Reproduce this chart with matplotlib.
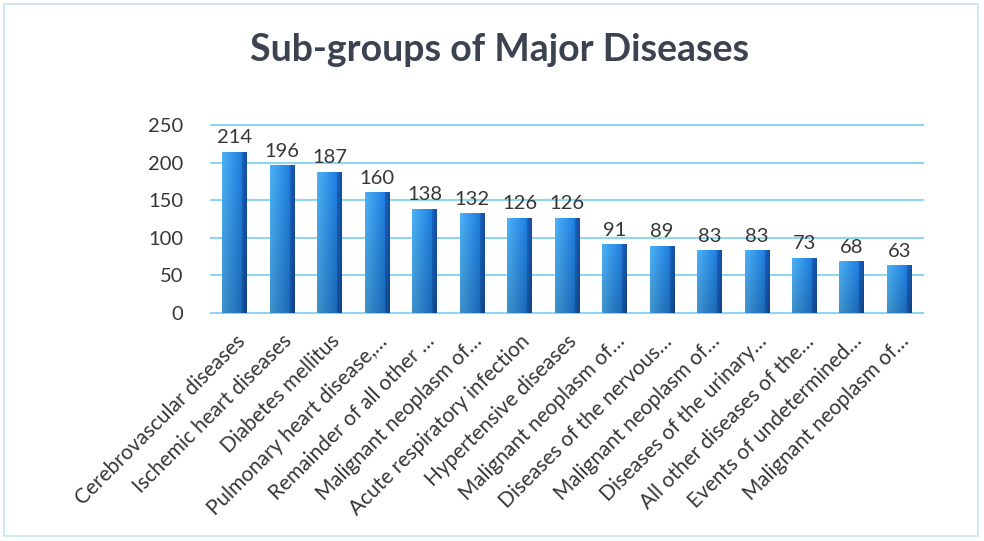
import numpy as np
import matplotlib.pyplot as plt
from matplotlib.patches import Rectangle
from matplotlib.colors import to_rgb

categories = [
    "Cerebrovascular diseases",
    "Ischemic heart diseases",
    "Diabetes mellitus",
    "Pulmonary heart disease,\u2026",
    "Remainder of all other \u2026",
    "Malignant neoplasm of\u2026",
    "Acute respiratory infection",
    "Hypertensive diseases",
    "Malignant neoplasm of\u2026",
    "Diseases of the nervous\u2026",
    "Malignant neoplasm of\u2026",
    "Diseases of the urinary\u2026",
    "All other diseases of the\u2026",
    "Events of undetermined\u2026",
    "Malignant neoplasm of\u2026",
]
values = [214, 196, 187, 160, 138, 132, 126, 126, 91, 89, 83, 83, 73, 68, 63]
yticks = [0, 50, 100, 150, 200, 250]

plt.rcParams['font.family'] = ['Lato', 'DejaVu Sans']
text_color = '#363636'


def bar_gradient(ncols=60, nrows=80):
    # front face light -> mid blue, right side face darker
    front_l = np.array(to_rgb('#4db2f6'))
    front_r = np.array(to_rgb('#1f7fe0'))
    side_l = np.array(to_rgb('#1b62c0'))
    side_r = np.array(to_rgb('#15509f'))
    nfront = int(ncols * 0.8)
    cols = []
    for i in range(ncols):
        if i < nfront:
            t = i / (nfront - 1)
            cols.append(front_l * (1 - t) + front_r * t)
        else:
            t = (i - nfront) / max(ncols - nfront - 1, 1)
            cols.append(side_l * (1 - t) + side_r * t)
    row = np.array(cols)
    shade = np.linspace(1.0, 0.82, nrows)[:, None, None]
    return np.clip(row[None, :, :] * shade, 0, 1)


fig = plt.figure(figsize=(9.84, 5.41), dpi=100)
ax = fig.add_axes([211 / 984, 228 / 541, 712 / 984, 188 / 541])

x = np.arange(len(values))
bars = ax.bar(x, values, width=0.52, color='none', zorder=3)
grad = bar_gradient()
for b, v in zip(bars, values):
    x0 = b.get_x()
    ax.imshow(grad, extent=[x0, x0 + b.get_width(), 0, v], aspect='auto',
              interpolation='bilinear', zorder=3)
    ax.text(x0 + b.get_width() / 2, v + 8, str(v), ha='center', va='bottom',
            fontsize=14.5, color=text_color, zorder=4)

ax.set_xlim(-0.5, len(values) - 0.5)
ax.set_ylim(0, 250)
ax.set_yticks(yticks)
ax.yaxis.grid(True, color='#8fd6f2', lw=1.5)
for gl in ax.get_ygridlines():
    gl.set_clip_on(False)
ax.set_axisbelow(True)
for s in ax.spines.values():
    s.set_visible(False)

ax.set_xticks(x)
ax.set_xticklabels(categories, rotation=45, ha='right', rotation_mode='anchor',
                   fontsize=15, color=text_color)
ax.tick_params(axis='x', length=0, pad=13)
ax.tick_params(axis='y', length=0, pad=20, labelsize=14.5, labelcolor=text_color)

fig.text(0.508, 0.908, 'Sub-groups of Major Diseases', ha='center', va='center',
         fontsize=27, fontweight='bold', color='#3b4250')

fig.add_artist(Rectangle((4 / 984, 0.01), 0.99, 0.982, transform=fig.transFigure,
                         fill=False, ec='#c6e6f4', lw=1.2))

fig.savefig('out.png', dpi=100)
